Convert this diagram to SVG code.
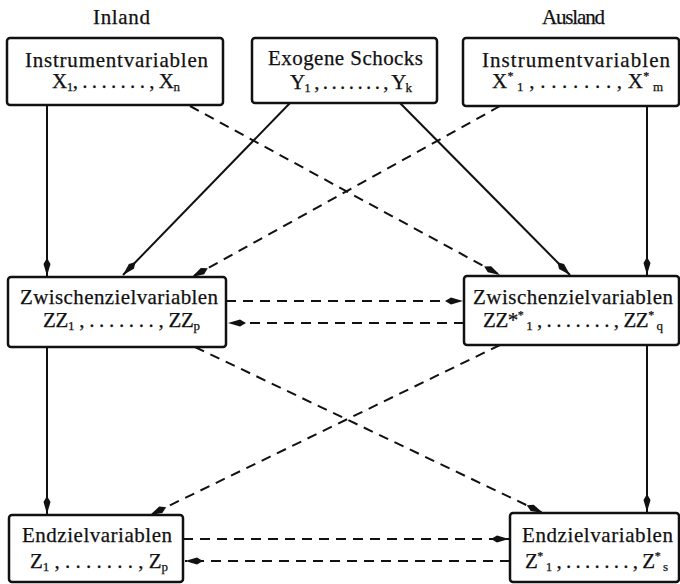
<svg xmlns="http://www.w3.org/2000/svg" width="680" height="584" viewBox="0 0 680 584">
<style>
text{font-family:"Liberation Serif","Times New Roman",serif;font-size:21px;fill:#111;text-anchor:middle;stroke:#111;stroke-width:0.25}
.sub{font-size:13px}
.sup{font-size:12px}
.box{fill:#fff;stroke:#111;stroke-width:2.5}
.c{stroke:#111;stroke-width:2;fill:none}
.d{stroke-dasharray:10 7}
</style>
<defs>
<marker id="ah" markerWidth="19" markerHeight="10" refX="18" refY="5" orient="auto" markerUnits="userSpaceOnUse"><path d="M0,5 L6,1.5 L18,5 L6,8.5 Z" fill="#111"/></marker>
</defs>
<rect width="680" height="584" fill="#fff"/>
<text x="121.5" y="24" textLength="57">Inland</text>
<text x="573.5" y="24" textLength="63">Ausland</text>
<g id="connectors">
<line class="c" x1="47" y1="105" x2="47" y2="276" marker-end="url(#ah)"/>
<line class="c d" x1="190" y1="106" x2="500" y2="275" marker-end="url(#ah)"/>
<line class="c" x1="290" y1="103" x2="123" y2="275" marker-end="url(#ah)"/>
<line class="c" x1="400" y1="103" x2="570" y2="275" marker-end="url(#ah)"/>
<line class="c d" x1="500" y1="106" x2="192" y2="277" marker-end="url(#ah)"/>
<line class="c" x1="647" y1="106" x2="647" y2="275" marker-end="url(#ah)"/>
<line class="c d" x1="226" y1="301" x2="463" y2="301" marker-end="url(#ah)"/>
<line class="c d" x1="464" y1="323" x2="228" y2="323" marker-end="url(#ah)"/>
<line class="c" x1="47" y1="347" x2="47" y2="514" marker-end="url(#ah)"/>
<line class="c d" x1="195" y1="347" x2="543" y2="513" marker-end="url(#ah)"/>
<line class="c d" x1="500" y1="345" x2="150" y2="515" marker-end="url(#ah)"/>
<line class="c" x1="647" y1="345" x2="647" y2="512" marker-end="url(#ah)"/>
<line class="c d" x1="183" y1="539" x2="509" y2="539" marker-end="url(#ah)"/>
<line class="c d" x1="510" y1="561" x2="185" y2="561" marker-end="url(#ah)"/>
</g>
<g id="inland-instrument">
<rect class="box" x="7" y="38" width="216" height="67" rx="3"/>
<text x="116.5" y="67" textLength="183">Instrumentvariablen</text>
<text x="116" y="88" textLength="128">X<tspan class="sub" dy="3">1</tspan><tspan dy="-3">, . . . . . . . , X</tspan><tspan class="sub" dy="3">n</tspan></text>
</g>
<g id="exogene">
<rect class="box" x="252" y="38" width="185" height="65" rx="3"/>
<text x="345.5" y="65" textLength="155">Exogene Schocks</text>
<text x="351" y="89" textLength="122">Y<tspan class="sub" dy="3">1</tspan><tspan dy="-3"> , . . . . . . . , Y</tspan><tspan class="sub" dy="3">k</tspan></text>
</g>
<g id="ausland-instrument">
<rect class="box" x="463" y="38" width="216" height="68" rx="3"/>
<text x="576" y="67" textLength="188">Instrumentvariablen</text>
<text x="577.5" y="88" textLength="171">X<tspan class="sup" dy="-8">*</tspan><tspan class="sub" dy="11"> 1</tspan><tspan dy="-3"> , . . . . . . . , X</tspan><tspan class="sup" dy="-8">*</tspan><tspan class="sub" dy="11"> m</tspan></text>
</g>
<g id="inland-zwischen">
<rect class="box" x="8" y="277" width="218" height="70" rx="3"/>
<text x="119" y="304" textLength="198">Zwischenzielvariablen</text>
<text x="121.5" y="327" textLength="157">ZZ<tspan class="sub" dy="3">1</tspan><tspan dy="-3"> , . . . . . . . , ZZ</tspan><tspan class="sub" dy="3">p</tspan></text>
</g>
<g id="ausland-zwischen">
<rect class="box" x="464" y="276" width="215" height="69" rx="3"/>
<text x="573" y="304" textLength="200">Zwischenzielvariablen</text>
<text x="573" y="327" textLength="180">ZZ*<tspan class="sup" dy="-8">*</tspan><tspan class="sub" dy="11"> 1</tspan><tspan dy="-3"> , . . . . . . . , ZZ</tspan><tspan class="sup" dy="-8">*</tspan><tspan class="sub" dy="11"> q</tspan></text>
</g>
<g id="inland-end">
<rect class="box" x="9" y="515" width="174" height="67" rx="3"/>
<text x="97" y="542" textLength="150">Endzielvariablen</text>
<text x="99" y="568" textLength="138">Z<tspan class="sub" dy="3">1</tspan><tspan dy="-3"> , . . . . . . . , Z</tspan><tspan class="sub" dy="3">p</tspan></text>
</g>
<g id="ausland-end">
<rect class="box" x="510" y="513" width="169" height="69" rx="3"/>
<text x="597.5" y="542" textLength="151">Endzielvariablen</text>
<text x="596.5" y="568" textLength="143">Z<tspan class="sup" dy="-8">*</tspan><tspan class="sub" dy="11"> 1</tspan><tspan dy="-3"> , . . . . . . . , Z</tspan><tspan class="sup" dy="-8">*</tspan><tspan class="sub" dy="11"> s</tspan></text>
</g>
</svg>
